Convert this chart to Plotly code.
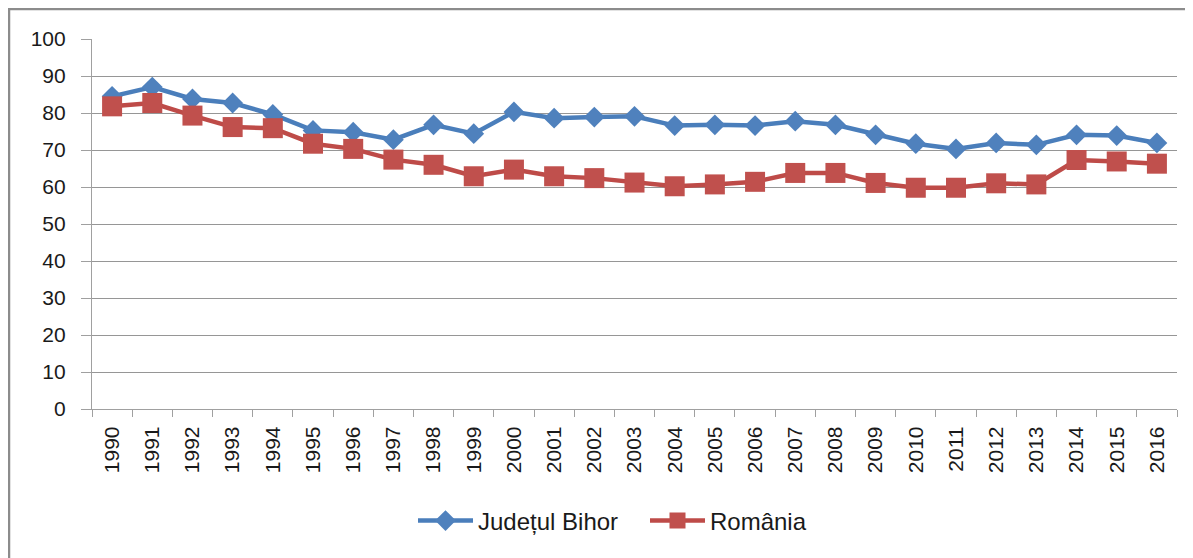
import plotly.graph_objects as go

years = [str(y) for y in range(1990, 2017)]
bihor = [84.5, 87.0, 83.8, 82.7, 79.6, 75.3, 74.8, 72.8, 76.8, 74.4, 80.3, 78.6, 78.9, 79.1,
         76.6, 76.8, 76.6, 77.8, 76.8, 74.1, 71.7, 70.3, 71.9, 71.4, 74.1, 73.9, 71.9]
romania = [81.8, 82.7, 79.3, 76.2, 75.9, 71.7, 70.3, 67.4, 66.0, 62.9, 64.7, 62.9, 62.4, 61.2,
           60.2, 60.7, 61.4, 63.8, 63.8, 61.1, 59.8, 59.8, 61.0, 60.7, 67.3, 66.9, 66.3]
yticks = [0, 10, 20, 30, 40, 50, 60, 70, 80, 90, 100]

BLUE = "#4A7EBB"
RED = "#BE4B48"
FONT = "Liberation Sans"

fig = go.Figure()
fig.add_trace(go.Scatter(
    x=years, y=bihor, name="Județul Bihor", mode="lines+markers",
    line=dict(color=BLUE, width=4.5),
    marker=dict(symbol="diamond", size=16, color="#4F81BD"),
))
fig.add_trace(go.Scatter(
    x=years, y=romania, name="România", mode="lines+markers",
    line=dict(color=RED, width=4.5),
    marker=dict(symbol="square", size=20, color="#C0504D"),
))

# page body has an 8px margin; work in screen coords and shift
OFF = 8
W, H = 1193 - OFF, 558 - OFF
L, R, T, B = 92 - OFF, 1177 - OFF, 39 - OFF, 409 - OFF
pw, ph = R - L, B - T

def px(x):
    return (x - OFF - L) / pw

def py(y):
    return (B - (y - OFF)) / ph

fig.update_layout(
    width=W, height=H,
    margin=dict(l=L, r=W - R, t=T, b=H - B),
    paper_bgcolor="white", plot_bgcolor="white",
    font=dict(family=FONT, color="#1a1a1a"),
    showlegend=True,
    legend=dict(orientation="h", x=px(413), xanchor="left", y=py(521), yanchor="middle",
                font=dict(size=24, color="#1a1a1a"), itemwidth=55, entrywidth=162,
                traceorder="normal"),
    shapes=[dict(type="rect", xref="paper", yref="paper",
                 x0=px(9), x1=px(1210), y0=py(575), y1=py(9),
                 line=dict(color="#8C8C8C", width=2.5), fillcolor="rgba(0,0,0,0)", layer="below")],
)
fig.update_xaxes(
    type="category", tickangle=-90, tickfont=dict(size=21, color="#1a1a1a"),
    showline=True, linecolor="#A0A0A0", linewidth=1.2,
    ticks="outside", tickson="boundaries", ticklen=7, tickcolor="#A0A0A0",
    ticklabelstandoff=8,
    showgrid=False, range=[-0.5, len(years) - 0.5],
)
fig.update_yaxes(
    range=[0, 100], tickvals=yticks, tickfont=dict(size=21, color="#1a1a1a"),
    showline=True, linecolor="#A0A0A0", linewidth=1.2,
    ticks="outside", ticklen=10, tickcolor="#A0A0A0",
    ticklabelstandoff=11,
    showgrid=True, gridcolor="#969696", gridwidth=1.2, zeroline=False,
)

fig.write_html("out.html")
